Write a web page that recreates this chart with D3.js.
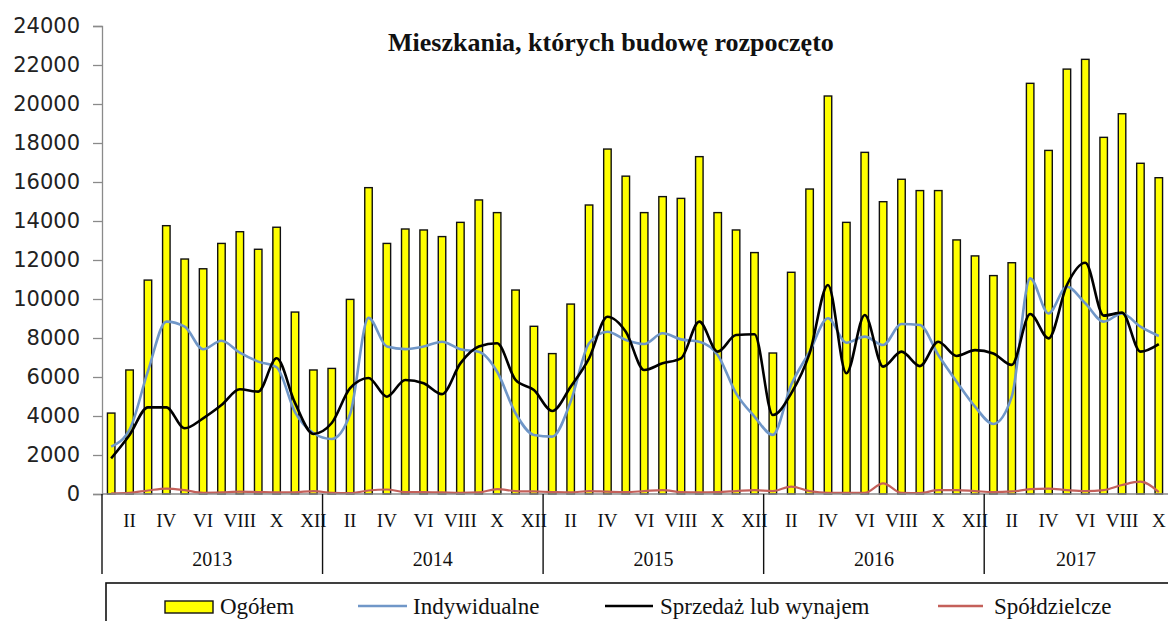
<!DOCTYPE html>
<html>
<head>
<meta charset="utf-8">
<script src="https://cdn.jsdelivr.net/npm/d3@7"></script>
<style>
  body { margin: 0; background: #fff; }
  svg { display: block; }
</style>
</head>
<body>
<div id="chart"></div>
<script>
// Mieszkania, których budowę rozpoczęto – dane miesięczne I 2013 – X 2017

const years = ['2013', '2014', '2015', '2016', '2017'];
const monthLabels = ['', 'II', '', 'IV', '', 'VI', '', 'VIII', '', 'X', '', 'XII'];

const ogolem = [
  4150, 6360, 10970, 13760, 12050, 11550, 12850, 13450, 12550, 13680, 9330, 6360,
  6440, 9980, 15710, 12850, 13590, 13540, 13200, 13930, 15080, 14430, 10460, 8600,
  7200, 9740, 14820, 17690, 16300, 14430, 15250, 15160, 17300, 14430, 13540, 12380,
  7230, 11370, 15640, 20410, 13930, 17520, 14990, 16140, 15560, 15560, 13030, 12210,
  11200, 11860, 21060, 17620, 21790, 22290, 18290, 19500, 16960, 16220
];

const indywidualne = [
  2430, 3300, 6300, 8840, 8580, 7420, 7860, 7250, 6790, 6500, 4200, 3130,
  2820, 4100, 9030, 7560, 7430, 7560, 7810, 7420, 7300, 6270, 4140, 3030,
  2940, 4740, 7730, 8320, 7900, 7690, 8240, 7930, 7810, 7130, 5160, 3970,
  3030, 5600, 7300, 9010, 7760, 8070, 7640, 8720, 8670, 7130, 5760, 4480,
  3590, 4990, 11060, 9260, 10630, 9780, 8840, 9260, 8580, 8100
];

const sprzedaz = [
  1830, 3030, 4440, 4440, 3370, 3880, 4560, 5370, 5250, 6960, 4670, 3080,
  3640, 5430, 5950, 4990, 5850, 5680, 5120, 6700, 7560, 7730, 5850, 5330,
  4260, 5500, 6960, 9090, 8320, 6360, 6700, 6960, 8840, 7300, 8150, 8190,
  4050, 5160, 7210, 10720, 6190, 9180, 6530, 7300, 6560, 7810, 7080, 7380,
  7210, 6620, 9230, 7980, 10720, 11860, 9150, 9300, 7300, 7690
];

const spoldzielcze = [
  30, 60, 180, 280, 200, 60, 80, 120, 100, 80, 90, 150,
  60, 40, 180, 230, 100, 100, 80, 60, 80, 250, 150, 130,
  100, 80, 150, 120, 100, 150, 200, 100, 80, 100, 150, 200,
  150, 380, 150, 60, 60, 60, 550, 60, 50, 200, 200, 150,
  100, 130, 250, 280, 200, 150, 200, 460, 630, 100
];

const yTicks = d3.range(0, 24001, 2000);

const W = 1168, H = 621;
const margin = { left: 102, right: 1168, top: 26, bottom: 494 };

const svg = d3.select('#chart').append('svg')
  .attr('width', W)
  .attr('height', H);

// Skale
const x = d3.scaleBand()
  .domain(d3.range(ogolem.length))
  .range([margin.left, margin.right])
  .padding(0);

const cx = i => x(i) + x.bandwidth() / 2;

const y = d3.scaleLinear()
  .domain([0, 24000])
  .range([margin.bottom, margin.top]);

// Oś Y
const yAxis = svg.append('g')
  .attr('transform', `translate(${margin.left},0)`)
  .call(d3.axisLeft(y).tickValues(yTicks).tickSize(9).tickPadding(13).tickFormat(d3.format('d')));
yAxis.select('.domain').attr('stroke', '#8a8a8a').attr('stroke-width', 1.3);
yAxis.selectAll('.tick line').attr('stroke', '#8a8a8a').attr('stroke-width', 1.3);
yAxis.selectAll('.tick text')
  .style('font-family', '"DejaVu Sans", sans-serif')
  .style('font-size', '21px')
  .attr('fill', '#222');

// Słupki
const barW = 7.5;
svg.selectAll('.bar')
  .data(ogolem)
  .enter()
  .append('rect')
  .attr('class', 'bar')
  .attr('x', (d, i) => cx(i) - barW / 2)
  .attr('y', d => y(d))
  .attr('width', barW)
  .attr('height', d => y(0) - y(d))
  .attr('fill', '#ffff00')
  .attr('stroke', '#111')
  .attr('stroke-width', 1.4);

// Linie
const line = d3.line()
  .x((d, i) => cx(i))
  .y(d => y(d))
  .curve(d3.curveMonotoneX);

const series = [
  { data: spoldzielcze, color: '#c4605a', width: 2.2 },
  { data: indywidualne, color: '#7097c8', width: 2.6 },
  { data: sprzedaz, color: '#000000', width: 2.6 }
];

series.forEach(s => {
  svg.append('path')
    .datum(s.data)
    .attr('fill', 'none')
    .attr('stroke', s.color)
    .attr('stroke-width', s.width)
    .attr('stroke-linejoin', 'round')
    .attr('d', line);
});

// Oś X
svg.append('line')
  .attr('x1', margin.left).attr('x2', margin.right)
  .attr('y1', margin.bottom).attr('y2', margin.bottom)
  .attr('stroke', '#8a8a8a')
  .attr('stroke-width', 1.3);

// Etykiety miesięcy
svg.selectAll('.month')
  .data(d3.range(ogolem.length).filter(i => monthLabels[i % 12] !== ''))
  .enter()
  .append('text')
  .attr('class', 'month')
  .attr('x', i => cx(i))
  .attr('y', 527)
  .attr('text-anchor', 'middle')
  .style('font-family', '"Liberation Serif", serif')
  .style('font-size', '19px')
  .attr('fill', '#111')
  .text(i => monthLabels[i % 12]);

// Separatory lat
const yearStart = k => x(k * 12);
const yearEnd = k => (k * 12 + 12 <= ogolem.length) ? x(k * 12 + 11) + x.bandwidth() : margin.right;

svg.selectAll('.sep')
  .data(years)
  .enter()
  .append('line')
  .attr('x1', (d, k) => yearStart(k)).attr('x2', (d, k) => yearStart(k))
  .attr('y1', margin.bottom).attr('y2', 574)
  .attr('stroke', '#111')
  .attr('stroke-width', 1.4);

// Etykiety lat
svg.selectAll('.year')
  .data(years)
  .enter()
  .append('text')
  .attr('x', (d, k) => (yearStart(k) + yearEnd(k)) / 2)
  .attr('y', 566)
  .attr('text-anchor', 'middle')
  .style('font-family', '"Liberation Serif", serif')
  .style('font-size', '20px')
  .attr('fill', '#111')
  .text(d => d);

// Tytuł – rozmiar dobrany do szerokości ok. 452 px
const title = svg.append('text')
  .attr('x', 388)
  .attr('y', 51)
  .style('font-family', '"Liberation Serif", serif')
  .style('font-size', '21px')
  .style('font-weight', 'bold')
  .attr('fill', '#111')
  .text('Mieszkania, których budowę rozpoczęto');
const tw = title.node().getComputedTextLength();
title.style('font-size', Math.min(26, 21 * 452 / tw) + 'px');

// Legenda
svg.append('rect')
  .attr('x', 106).attr('y', 583)
  .attr('width', 1200).attr('height', 100)
  .attr('fill', 'none')
  .attr('stroke', '#111')
  .attr('stroke-width', 1.6);

const legendFont = g => g
  .style('font-family', '"Liberation Serif", serif')
  .style('font-size', '23px')
  .attr('fill', '#111');

svg.append('rect')
  .attr('x', 165).attr('y', 601)
  .attr('width', 48).attr('height', 12)
  .attr('fill', '#ffff00')
  .attr('stroke', '#111')
  .attr('stroke-width', 1.4);
svg.append('text').attr('x', 220).attr('y', 614).call(legendFont).text('Ogółem');

const legendLines = [
  { x1: 358, x2: 407, tx: 413, color: '#7097c8', label: 'Indywidualne' },
  { x1: 605, x2: 653, tx: 660, color: '#000000', label: 'Sprzedaż lub wynajem' },
  { x1: 938, x2: 983, tx: 994, color: '#c4605a', label: 'Spółdzielcze' }
];
legendLines.forEach(l => {
  svg.append('line')
    .attr('x1', l.x1).attr('x2', l.x2)
    .attr('y1', 606).attr('y2', 606)
    .attr('stroke', l.color)
    .attr('stroke-width', 2.6);
  svg.append('text').attr('x', l.tx).attr('y', 614).call(legendFont).text(l.label);
});
</script>
</body>
</html>
